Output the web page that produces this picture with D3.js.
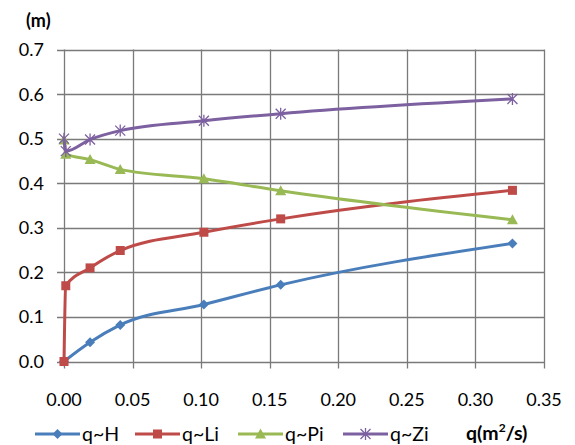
<!DOCTYPE html>
<html>
<head>
<meta charset="utf-8">
<script src="https://cdn.jsdelivr.net/npm/d3@7"></script>
<style>
  body { margin: 0; background: #fff; }
  text { font-family: Lato, "Open Sans", sans-serif; fill: #000; }
</style>
</head>
<body>
<svg width="575" height="445"></svg>
<script>
// q values (m2/s) for each measured point
const qH = [0, 0.019, 0.041, 0.102, 0.158, 0.327];
const valH = [0, 0.043, 0.082, 0.128, 0.172, 0.265];
const qL = [0, 0.0013, 0.019, 0.041, 0.102, 0.158, 0.327];
const valL = [0, 0.17, 0.21, 0.249, 0.29, 0.32, 0.384];
const qP = [0, 0.0013, 0.019, 0.041, 0.102, 0.158, 0.327];
const valP = [0.497, 0.465, 0.453, 0.431, 0.41, 0.383, 0.318];
const qZ = [0, 0.0013, 0.019, 0.041, 0.102, 0.158, 0.327];
const valZ = [0.5, 0.472, 0.498, 0.518, 0.54, 0.556, 0.589];

const xTicks = [0, 0.05, 0.1, 0.15, 0.2, 0.25, 0.3, 0.35];
const yTicks = [0, 0.1, 0.2, 0.3, 0.4, 0.5, 0.6, 0.7];

const series = [
  { name: "q~H", q: qH, v: valH, color: "#4A7EBB", marker: "diamond" },
  { name: "q~Li", q: qL, v: valL, color: "#BE4B48", marker: "square" },
  { name: "q~Pi", q: qP, v: valP, color: "#98B954", marker: "triangle" },
  { name: "q~Zi", q: qZ, v: valZ, color: "#7D60A0", marker: "star" }
];

let svg = d3.select("svg");
let x = d3.scaleLinear().domain([0, 0.35]).range([64, 544]);
let y = d3.scaleLinear().domain([0, 0.7]).range([361.5, 49.5]);

//grid lines + outward ticks
let g = svg.append("g");
g.selectAll(".vgrid")
  .data(xTicks)
  .enter()
  .append("line")
  .attr("x1", d => Math.round(x(d)) + 0.5)
  .attr("x2", d => Math.round(x(d)) + 0.5)
  .attr("y1", y(0.7))
  .attr("y2", y(0) + 7)
  .attr("stroke", "#7a7a7a")
  .attr("stroke-width", 1.3);
g.selectAll(".hgrid")
  .data(yTicks)
  .enter()
  .append("line")
  .attr("x1", x(0) - 7)
  .attr("x2", x(0.35))
  .attr("y1", d => Math.round(y(d)) + 0.5)
  .attr("y2", d => Math.round(y(d)) + 0.5)
  .attr("stroke", "#7a7a7a")
  .attr("stroke-width", 1.3);

//tick labels
g.selectAll(".ylab")
  .data(yTicks)
  .enter()
  .append("text")
  .attr("x", 44)
  .attr("y", d => y(d))
  .attr("dy", "0.36em")
  .attr("text-anchor", "end")
  .attr("font-size", 18)
  .text(d => d3.format(".1f")(d));
g.selectAll(".xlab")
  .data(xTicks)
  .enter()
  .append("text")
  .attr("x", d => x(d))
  .attr("y", 400)
  .attr("dy", "0.36em")
  .attr("text-anchor", "middle")
  .attr("font-size", 18)
  .text(d => d3.format(".2f")(d));

//axis titles
svg.append("text")
  .attr("x", 26)
  .attr("y", 27)
  .attr("font-size", 18)
  .attr("font-weight", "bold")
  .text("(m)");
let xt = svg.append("text")
  .attr("x", 466)
  .attr("y", 440)
  .attr("font-size", 19.5)
  .attr("font-weight", "bold");
xt.append("tspan").text("q(m");
xt.append("tspan").attr("font-size", 12).attr("dy", -8).text("2");
xt.append("tspan").attr("dy", 8).text("/s)");

function drawMarker(sel, type, color) {
  if (type === "diamond") {
    sel.append("path").attr("d", "M0,-5L5,0L0,5L-5,0Z").attr("fill", color);
  } else if (type === "square") {
    sel.append("rect").attr("x", -4.5).attr("y", -4.5).attr("width", 9).attr("height", 9).attr("fill", color);
  } else if (type === "triangle") {
    sel.append("path").attr("d", "M0,-5.5L5.5,4.5L-5.5,4.5Z").attr("fill", color);
  } else {
    sel.append("path")
      .attr("d", "M-5,-5L5,5M5,-5L-5,5M0,-6L0,6")
      .attr("stroke", color)
      .attr("stroke-width", 1.3)
      .attr("fill", "none");
  }
}

let line = d3.line().x(d => x(d[0])).y(d => y(d[1])).curve(d3.curveMonotoneX);

series.forEach(function(s) {
  let pts = s.q.map((q, i) => [q, s.v[i]]);
  svg.append("path")
    .datum(pts)
    .attr("d", line)
    .attr("fill", "none")
    .attr("stroke", s.color)
    .attr("stroke-width", 3);
  svg.selectAll(".m-" + s.marker)
    .data(pts)
    .enter()
    .append("g")
    .attr("class", "m-" + s.marker)
    .attr("transform", d => "translate(" + x(d[0]) + "," + y(d[1]) + ")")
    .each(function() { drawMarker(d3.select(this), s.marker, s.color); });
});

//legend
const legendX = [35, 135, 238, 343];
let leg = svg.selectAll(".legend")
  .data(series)
  .enter()
  .append("g")
  .attr("class", "legend")
  .attr("transform", (d, i) => "translate(" + legendX[i] + ",434)");
leg.append("line")
  .attr("x1", 0).attr("x2", 45)
  .attr("stroke", d => d.color)
  .attr("stroke-width", 3);
leg.each(function(d) {
  let m = d3.select(this).append("g").attr("transform", "translate(22.5,0)");
  drawMarker(m, d.marker, d.color);
});
leg.append("text")
  .attr("x", 47)
  .attr("dy", "0.36em")
  .attr("font-size", 19.5)
  .text(d => d.name);
</script>
</body>
</html>
